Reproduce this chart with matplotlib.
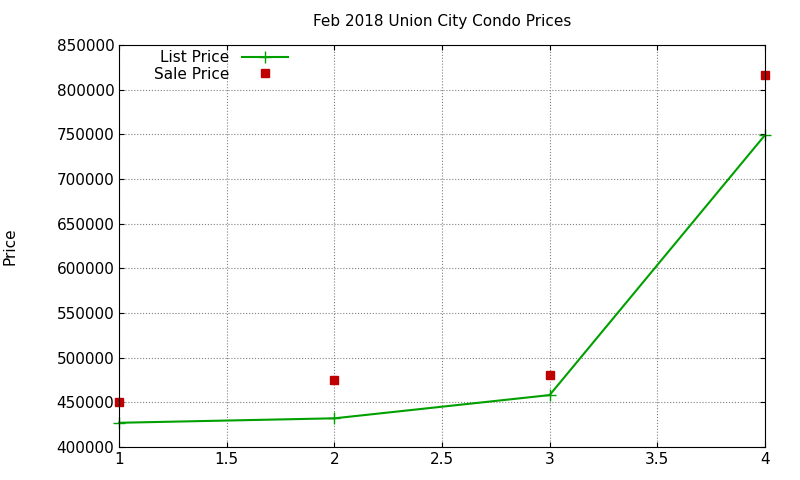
import matplotlib
matplotlib.use("Agg")
import matplotlib.pyplot as plt

x = [1, 2, 3, 4]
list_price = [427000, 432000, 458000, 749000]
sale_price = [450000, 475000, 480000, 816000]

fig = plt.figure(figsize=(8, 4.8), dpi=100)
ax = fig.add_axes([0.149, 0.069, 0.807, 0.837])
ax.plot(x, list_price, color="#00a000", marker="+", markersize=8, linewidth=1.5, label="List Price", clip_on=False)
ax.plot(x, sale_price, color="#c00000", marker="s", markersize=6, linestyle="none", label="Sale Price", clip_on=False)
ax.set_xlim(1, 4)
ax.set_ylim(400000, 850000)
ax.set_xticks([1, 1.5, 2, 2.5, 3, 3.5, 4])
ax.set_xticklabels(["1", "1.5", "2", "2.5", "3", "3.5", "4"])
ax.set_yticks(range(400000, 850001, 50000))
ax.tick_params(direction="in", labelsize=11, top=True, right=True)
ax.grid(True, linestyle=":", color="gray", linewidth=0.8)
ax.set_title("Feb 2018 Union City Condo Prices", fontsize=11, pad=14)
ax.set_ylabel("Price", fontsize=11, labelpad=28)
ax.legend(loc="upper left", markerfirst=False, frameon=False, fontsize=11,
          bbox_to_anchor=(0.04, 1.01), handlelength=3, borderaxespad=0.2, labelspacing=0.1)
fig.savefig("out.png")
